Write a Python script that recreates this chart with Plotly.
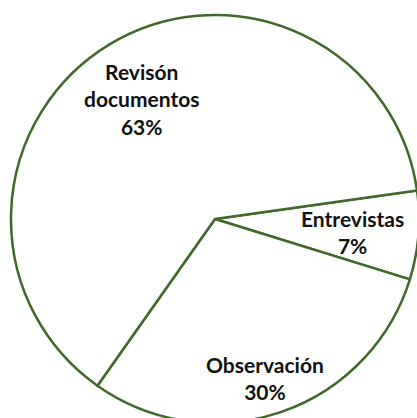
import plotly.graph_objects as go

labels = ["Entrevistas", "Observación", "Revisón<br>documentos"]
values = [7, 30, 63]

# label anchor positions (paper coords of the pie area)
label_pos = [(0.837, 0.467), (0.623, 0.111), (0.319, 0.794)]

fig = go.Figure(go.Pie(
    labels=labels,
    values=values,
    sort=False,
    direction="clockwise",
    rotation=82,
    textinfo="none",
    marker=dict(colors=["#ffffff"] * 3, line=dict(color="#41682a", width=2.5)),
    showlegend=False,
    hoverinfo="skip",
))

total = sum(values)
for lab, val, (px, py) in zip(labels, values, label_pos):
    fig.add_annotation(
        x=px, y=py, xref="paper", yref="paper",
        text=f"{lab}<br>{round(100 * val / total)}%",
        showarrow=False,
        font=dict(family="Lato", size=21, color="#111111", weight="bold"),
        xanchor="center", yanchor="middle", align="center",
    )

fig.update_layout(
    width=430, height=430,
    margin=dict(l=11, r=11, t=15, b=7, pad=0),
    paper_bgcolor="white",
    plot_bgcolor="white",
)

fig.write_html(
    "out.html",
    config={"displayModeBar": False},
    post_script="document.body.style.margin='0';document.body.style.overflow='hidden';",
)
